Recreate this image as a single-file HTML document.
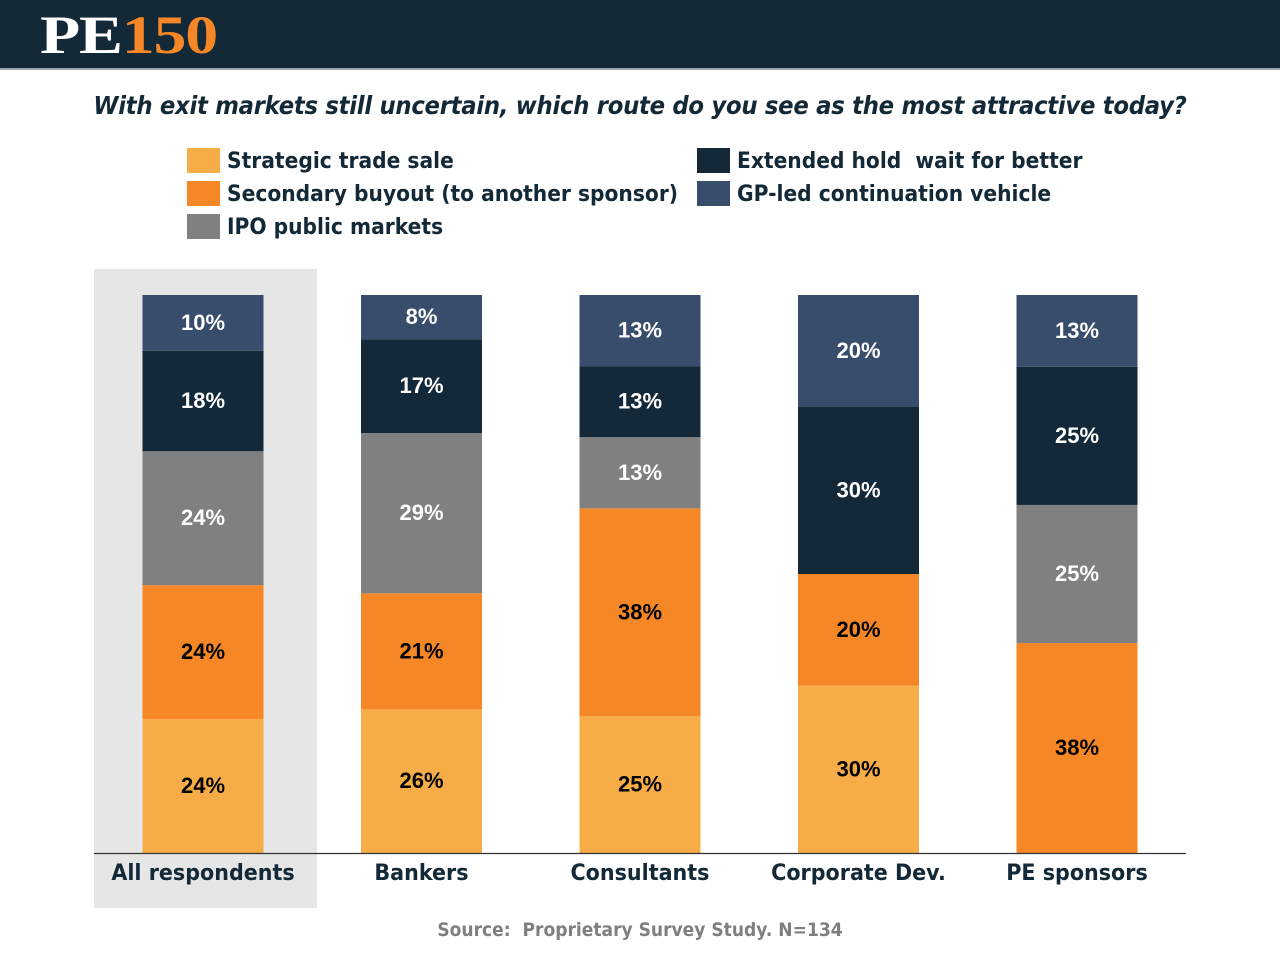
<!DOCTYPE html>
<html><head><meta charset="utf-8">
<style>
body{margin:0;width:1280px;height:960px;background:#fff;font-family:"Liberation Sans",sans-serif;overflow:hidden;position:relative}
.hdr{position:absolute;left:0;top:0;width:1280px;height:68px;background:#132937;border-bottom:2px solid #9aa4ad}
.logo{position:absolute;left:40px;top:4px;font-family:"Liberation Serif",serif;font-weight:bold;font-size:54px;letter-spacing:-1px;line-height:62px;transform:scaleX(1.22);transform-origin:left center;white-space:nowrap}
.title{position:absolute;left:0;width:1280px;top:91px;text-align:center;font-style:italic;font-weight:bold;font-size:25px;color:#132937;font-family:"DejaVu Sans","Liberation Sans",sans-serif;letter-spacing:-0.3px;transform:scaleX(0.91);transform-origin:640px 0;white-space:nowrap}
.leg{position:absolute;font-weight:bold;font-size:22.5px;color:#132937;font-family:"DejaVu Sans","Liberation Sans",sans-serif;line-height:25px;white-space:nowrap}
.leg span{position:absolute;left:0;top:0;width:33px;height:25px}
.leg b{position:absolute;left:40px;top:1px;transform:scaleX(0.9);transform-origin:left center}
.src{position:absolute;left:0;width:1280px;top:919px;text-align:center;font-weight:bold;font-size:19px;color:#7f7f7f;font-family:"DejaVu Sans","Liberation Sans",sans-serif;transform:scaleX(0.9);transform-origin:640px 0}
</style></head><body>
<div class="hdr"><div class="logo"><span style="color:#fff">PE</span><span style="color:#f58726">150</span></div></div>
<div class="title">With exit markets still uncertain, which route do you see as the most attractive today?</div>
<div class="leg" style="left:187px;top:148px"><span style="background:#f6ac47"></span><b>Strategic trade sale</b></div>
<div class="leg" style="left:187px;top:181px"><span style="background:#f58726"></span><b>Secondary buyout (to another sponsor)</b></div>
<div class="leg" style="left:187px;top:214px"><span style="background:#808080"></span><b>IPO public markets</b></div>
<div class="leg" style="left:697px;top:148px"><span style="background:#13293a"></span><b>Extended hold &nbsp;wait for better</b></div>
<div class="leg" style="left:697px;top:181px"><span style="background:#384c6c"></span><b>GP-led continuation vehicle</b></div>
<svg id="chart" width="1280" height="960" style="position:absolute;left:0;top:0"></svg>
<div class="src">Source:&nbsp; Proprietary Survey Study. N=134</div>
<script>
const categories=["All respondents","Bankers","Consultants","Corporate Dev.","PE sponsors"];
const strategic=[24,26,25,30,0];
const secondary=[24,21,38,20,38];
const ipo=[24,29,13,0,25];
const extendedHold=[18,17,13,30,25];
const gpLed=[10,8,13,20,13];
const seriesNames=["strategic","secondary","ipo","extended-hold","gp-led"];
const series=[strategic,secondary,ipo,extendedHold,gpLed];
const colors=["#f6ac47","#f58726","#808080","#13293a","#384c6c"];
const textColors=["#000","#000","#fff","#fff","#fff"];
const svg=document.getElementById('chart');
const NS="http://www.w3.org/2000/svg";
const baseY=853,topY=295,barW=121;
function xCenter(i){return 203+i*218.5;}
function mk(tag,attrs){const e=document.createElementNS(NS,tag);for(const k in attrs)e.setAttribute(k,attrs[k]);svg.appendChild(e);return e;}
const hl=mk('rect',{x:94,y:269,width:223,height:639,fill:'#e6e6e6'});


categories.forEach((c,i)=>{
  let total=0;series.forEach(s=>total+=s[i]);
  const scale=(baseY-topY)/total;
  let y=baseY;
  series.forEach((s,k)=>{
    const v=s[i];if(!v)return;
    const h=v*scale;y-=h;
    const r=mk('rect',{x:xCenter(i)-barW/2,y:y,width:barW,height:h,fill:colors[k]});
    
    
    const t=mk('text',{x:xCenter(i),y:y+h/2+7,'text-anchor':'middle','font-size':22,'font-weight':'bold',fill:textColors[k],'font-family':'Liberation Sans, sans-serif'});
    t.textContent=v+'%';
    
    
  });
  const l=mk('text',{x:xCenter(i),y:880,'text-anchor':'middle','font-size':22,'font-weight':'bold',fill:'#132937','font-family':'DejaVu Sans, Liberation Sans, sans-serif',transform:'translate('+xCenter(i)+',0) scale(0.94,1) translate('+(-xCenter(i))+',0)'});
  l.textContent=c;
  
  
});
const ax=mk('line',{x1:94,x2:1186,y1:853.5,y2:853.5,stroke:'#333','stroke-width':1.3});


</script>
</body></html>
